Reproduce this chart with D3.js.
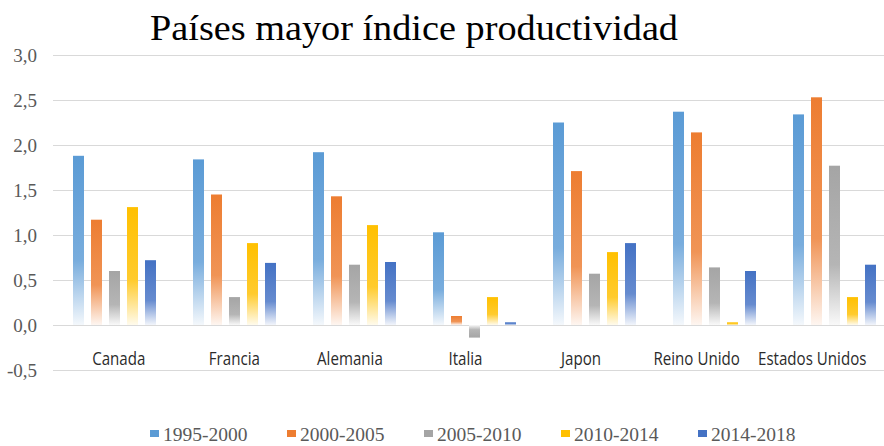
<!DOCTYPE html>
<html>
<head>
<meta charset="utf-8">
<script src="https://cdn.jsdelivr.net/npm/d3@7"></script>
<style>
  html, body { margin: 0; padding: 0; background: #fff; }
  svg { display: block; }
</style>
</head>
<body>
<svg id="chart" width="884" height="446"></svg>
<script>
const title = "Países mayor índice productividad";
const categories = ["Canada", "Francia", "Alemania", "Italia", "Japon", "Reino Unido", "Estados Unidos"];
const seriesNames = ["1995-2000", "2000-2005", "2005-2010", "2010-2014", "2014-2018"];
const s1995_2000 = [1.88, 1.84, 1.92, 1.03, 2.25, 2.37, 2.34];
const s2000_2005 = [1.17, 1.45, 1.43, 0.10, 1.71, 2.14, 2.53];
const s2005_2010 = [0.60, 0.31, 0.67, -0.14, 0.57, 0.64, 1.77];
const s2010_2014 = [1.31, 0.91, 1.11, 0.31, 0.81, 0.03, 0.31];
const s2014_2018 = [0.72, 0.69, 0.70, 0.03, 0.91, 0.60, 0.67];
const yTickValues = [-0.5, 0, 0.5, 1, 1.5, 2, 2.5, 3];
const yTickLabels = ["-0,5", "0,0", "0,5", "1,0", "1,5", "2,0", "2,5", "3,0"];
const colors = ["#5B9BD5", "#ED7D31", "#A5A5A5", "#FFC000", "#4472C4"];

const seriesValues = [s1995_2000, s2000_2005, s2005_2010, s2010_2014, s2014_2018];

const W = 884, H = 446;
const svg = d3.select("#chart");

const y = d3.scaleLinear().domain([-0.5, 3]).range([370, 55]);
const x0 = d3.scaleBand().domain(categories).range([54.5, 894.5]).paddingInner(0).paddingOuter(0);
const x1 = d3.scaleBand().domain(seriesNames).range([0, x0.bandwidth()]).paddingInner(0.389).paddingOuter(1.028);
// category labels sit on a slightly narrower band than the bars
const xLabel = d3.scaleBand().domain(categories).range([61, 870]);

// gradients
const defs = svg.append("defs");
colors.forEach((c, i) => {
  [false, true].forEach(neg => {
    const g = defs.append("linearGradient")
      .attr("id", "grad" + i + (neg ? "n" : ""))
      .attr("x1", 0).attr("x2", 0)
      .attr("y1", neg ? 1 : 0).attr("y2", neg ? 0 : 1);
    g.append("stop").attr("offset", "0%").attr("stop-color", c);
    g.append("stop").attr("offset", "62%").attr("stop-color", d3.interpolateRgb(c, "#fff")(0.18));
    g.append("stop").attr("offset", "100%").attr("stop-color", d3.interpolateRgb(c, "#fff")(0.93));
  });
});

// y axis + grid
const yAxis = d3.axisLeft(y)
  .tickValues(yTickValues)
  .tickSize(-(W - 53))
  .tickPadding(16)
  .tickFormat((d, i) => yTickLabels[i]);

const gy = svg.append("g").attr("transform", "translate(53,0)").call(yAxis);
gy.select(".domain").remove();
gy.selectAll(".tick line").attr("stroke", "#D9D9D9").attr("stroke-width", 1);
gy.selectAll(".tick text")
  .attr("fill", "#595959")
  .style("font-family", "'Liberation Serif', 'Times New Roman', serif")
  .style("font-size", "19px");

// bars
const groups = svg.append("g").selectAll("g")
  .data(categories)
  .join("g")
  .attr("transform", d => `translate(${x0(d)},0)`);

groups.selectAll("rect")
  .data((c, ci) => seriesNames.map((s, si) => ({ s, si, v: seriesValues[si][ci] })))
  .join("rect")
  .attr("x", d => x1(d.s))
  .attr("width", x1.bandwidth())
  .attr("y", d => y(Math.max(0, d.v)))
  .attr("height", d => Math.abs(y(d.v) - y(0)))
  .attr("fill", d => `url(#grad${d.si}${d.v < 0 ? "n" : ""})`);

// category labels
svg.append("g").selectAll("text")
  .data(categories)
  .join("text")
  .attr("transform", d => `translate(${xLabel(d) + xLabel.bandwidth() / 2},365) scale(0.84,1)`)
  .attr("text-anchor", "middle")
  .attr("fill", "#2b2b2b")
  .style("font-family", "'Open Sans', 'Noto Sans', sans-serif")
  .style("font-size", "18px")
  .text(d => d);

// title
svg.append("text")
  .attr("x", 414)
  .attr("y", 40)
  .attr("text-anchor", "middle")
  .attr("textLength", 528)
  .attr("lengthAdjust", "spacingAndGlyphs")
  .attr("fill", "#000")
  .style("font-family", "'Liberation Serif', 'Times New Roman', serif")
  .style("font-size", "36px")
  .text(title);

// legend
const legendX = d3.scaleLinear().domain([0, seriesNames.length - 1]).range([150, 150 + 137 * (seriesNames.length - 1)]);
const lg = svg.append("g").selectAll("g")
  .data(seriesNames)
  .join("g")
  .attr("transform", (d, i) => `translate(${legendX(i)},0)`);
lg.append("rect")
  .attr("x", 0).attr("y", 430)
  .attr("width", 9).attr("height", 7)
  .attr("fill", (d, i) => colors[i]);
lg.append("text")
  .attr("x", 13).attr("y", 441)
  .attr("fill", "#595959")
  .style("font-family", "'Liberation Serif', 'Times New Roman', serif")
  .style("font-size", "19.5px")
  .text(d => d);
</script>
</body>
</html>
